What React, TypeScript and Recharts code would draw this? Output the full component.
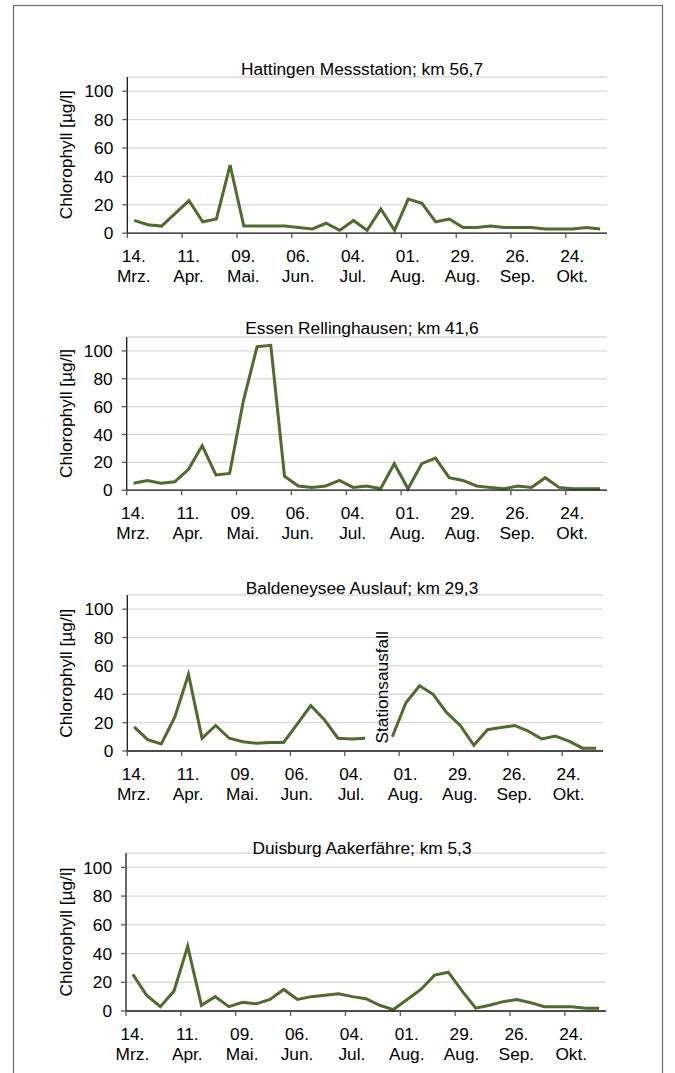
import React from 'react';
import { LineChart, Line, XAxis, YAxis, CartesianGrid, ReferenceLine } from 'recharts';

// week index of each weekly sample (category)
const weeks = [0, 1, 2, 3, 4, 5, 6, 7, 8, 9, 10, 11, 12, 13, 14, 15, 16, 17, 18, 19, 20, 21, 22, 23, 24, 25, 26, 27, 28, 29, 30, 31, 32, 33, 34];

// chlorophyll [µg/l]
const hattingen = [9, 6, 5, 14, 23, 8, 10, 48, 5, 5, 5, 5, 4, 3, 7, 2, 9, 2, 17, 2, 24, 21, 8, 10, 4, 4, 5, 4, 4, 4, 3, 3, 3, 4, 3];
const essen = [5, 7, 5, 6, 15, 32, 11, 12, 64, 103, 104, 10, 3, 2, 3, 7, 2, 3, 1, 19, 1, 19, 23, 9, 7, 3, 2, 1, 3, 2, 9, 2, 1, 1, 1];
const baldeney = [17, 8, 5, 24, 54, 9, 18, 9, 6.5, 5.5, 6, 6, 19, 32, 22, 9, 8.5, 9, null, 10, 34, 46, 40, 27, 18, 4, 15, 16.5, 18, 14, 8.5, 10.5, 7, 2, 2];
const duisburg = [25.5, 11, 3, 14, 45, 4, 10, 3, 6, 5, 8, 15, 8, 10, 11, 12, 10, 8.6, 4, 1, 8, 15, 25, 27, 14, 2, 4, 6.5, 8, 5.8, 3, 3, 3, 2, 2];

const titles = [
  'Hattingen Messstation; km 56,7',
  'Essen Rellinghausen; km 41,6',
  'Baldeneysee Auslauf; km 29,3',
  'Duisburg Aakerfähre; km 5,3',
];

// x-axis tick positions (week boundaries) and labels
const xTicks = [-0.5, 3.5, 7.5, 11.5, 15.5, 19.5, 23.5, 27.5, 31.5];
const xTickDays = ['14.', '11.', '09.', '06.', '04.', '01.', '29.', '26.', '24.'];
const xTickMonths = ['Mrz.', 'Apr.', 'Mai.', 'Jun.', 'Jul.', 'Aug.', 'Aug.', 'Sep.', 'Okt.'];
const yTicks = [0, 20, 40, 60, 80, 100];

const gapWeek = 18;
const gapLabel = 'Stationsausfall';
const yLabel = 'Chlorophyll [µg/l]';

const FONT = "'Liberation Sans', Arial, Helvetica, sans-serif";
const FS = 17.3;
const LINE = '#4f6b2d';

const panels = [
  { title: titles[0], values: hattingen, axisX: 127.3, rightX: 607, topY: 76.5, baseY: 232.7, titleY: 74.7 },
  { title: titles[1], values: essen, axisX: 126.7, rightX: 607, topY: 336.8, baseY: 490, titleY: 333.7 },
  { title: titles[2], values: baldeney, axisX: 127.3, rightX: 603, topY: 595.2, baseY: 751.2, titleY: 593.7 },
  { title: titles[3], values: duisburg, axisX: 126, rightX: 606, topY: 853, baseY: 1011, titleY: 853.5 },
];

const M_TOP = 20;
const XH = 55;
const M_BOTTOM = 5;
const YW = 60;

const XTick = (props: any) => {
  const { x, y, payload } = props;
  const i = xTicks.indexOf(payload.value);
  if (i < 0) return null;
  const cx = x + 6.4;
  return (
    <text x={cx} y={y} textAnchor="middle" fill="#000" fontSize={FS} fontFamily={FONT}>
      <tspan x={cx} dy={22}>{xTickDays[i]}</tspan>
      <tspan x={cx} dy={20}>{xTickMonths[i]}</tspan>
    </text>
  );
};

const GapLabel = (props: any) => {
  const vb = props.viewBox || {};
  const cx = (vb.x || 0) + 3;
  const by = (vb.y || 0) + (vb.height || 0) - 7.5;
  return (
    <text
      x={cx}
      y={by}
      transform={`rotate(-90 ${cx} ${by})`}
      textAnchor="start"
      dominantBaseline="central"
      fill="#000"
      fontSize={FS}
      fontFamily={FONT}
    >
      {gapLabel}
    </text>
  );
};

const Panel = ({ p, showGap }: { p: any; showGap: boolean }) => {
  const data = weeks.map((w, i) => ({ w, v: p.values[i] }));
  const plotH = p.baseY - p.topY;
  return (
    <div style={{ position: 'absolute', left: 0, top: p.topY - M_TOP }}>
      <LineChart
        width={p.rightX + 20}
        height={M_TOP + plotH + XH + M_BOTTOM}
        data={data}
        margin={{ top: M_TOP, right: 20, bottom: M_BOTTOM, left: p.axisX - YW }}
      >
        <CartesianGrid vertical={false} stroke="#d9d9d9" strokeWidth={1.3} />
        <XAxis
          type="number"
          dataKey="w"
          domain={[-0.5, 34.5]}
          ticks={xTicks}
          interval={0}
          tickSize={5}
          height={XH}
          axisLine={{ stroke: '#1a1a1a', strokeWidth: 1.3 }}
          tickLine={{ stroke: '#595959', strokeWidth: 1.3 }}
          tick={<XTick />}
        />
        <YAxis
          type="number"
          domain={[0, 110]}
          ticks={yTicks}
          interval={0}
          width={YW}
          tickSize={5}
          tickMargin={9}
          axisLine={{ stroke: '#1a1a1a', strokeWidth: 1.3 }}
          tickLine={{ stroke: '#595959', strokeWidth: 1.3 }}
          tick={{ fill: '#000', fontSize: FS, fontFamily: FONT }}
        />
        {showGap && (
          <ReferenceLine x={gapWeek} stroke="none" strokeOpacity={0} label={<GapLabel />} />
        )}
        <Line
          type="linear"
          dataKey="v"
          stroke={LINE}
          strokeWidth={3}
          dot={false}
          activeDot={false}
          connectNulls={false}
          isAnimationActive={false}
        />
      </LineChart>
    </div>
  );
};

export default function App() {
  return (
    <div
      style={{
        position: 'absolute',
        left: 0,
        top: 0,
        width: 675,
        height: 1073,
        background: '#fff',
        overflow: 'hidden',
        fontFamily: FONT,
      }}
    >
      {panels.map((p, i) => (
        <Panel key={i} p={p} showGap={i === 2} />
      ))}
      <svg width={675} height={1073} style={{ position: 'absolute', left: 0, top: 0, pointerEvents: 'none' }}>
        <rect x={13.5} y={5.5} width={649} height={1100} fill="none" stroke="#6b6b6b" strokeWidth={1.2} />
        {panels.map((p, i) => {
          const cy = (p.topY + p.baseY) / 2;
          return (
            <g key={i}>
              <text x={362} y={p.titleY} textAnchor="middle" fill="#000" fontSize={FS} fontFamily={FONT}>
                {p.title}
              </text>
              <text
                x={66.4}
                y={cy}
                transform={`rotate(-90 66.4 ${cy})`}
                textAnchor="middle"
                dominantBaseline="central"
                fill="#000"
                fontSize={FS}
                fontFamily={FONT}
              >
                {yLabel}
              </text>
            </g>
          );
        })}
      </svg>
    </div>
  );
}
